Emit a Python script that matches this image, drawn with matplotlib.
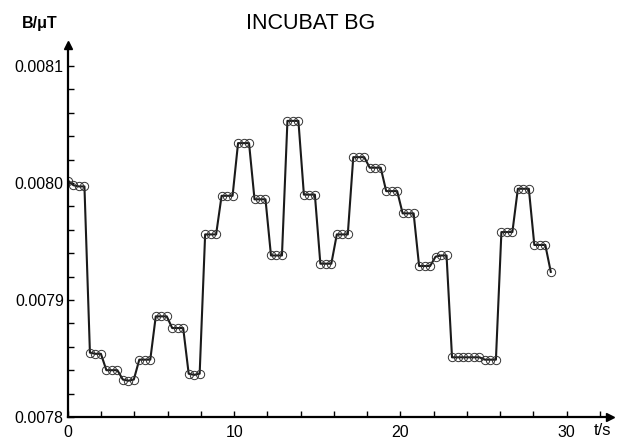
import numpy as np
import matplotlib.pyplot as plt
from matplotlib.ticker import MultipleLocator

plt.rcParams['font.family'] = ['Liberation Sans', 'DejaVu Sans']

# time in s, sampled about every 0.33 s
t = [0.00, 0.33, 0.66, 0.99, 1.32, 1.65, 1.98, 2.31, 2.64, 2.97,
     3.30, 3.63, 3.96, 4.29, 4.62, 4.95, 5.28, 5.61, 5.94, 6.27,
     6.60, 6.93, 7.26, 7.59, 7.92, 8.25, 8.58, 8.91, 9.24, 9.57,
     9.90, 10.23, 10.56, 10.89, 11.22, 11.55, 11.88, 12.21, 12.54, 12.87,
     13.20, 13.53, 13.86, 14.19, 14.52, 14.85, 15.18, 15.51, 15.84, 16.17,
     16.50, 16.83, 17.16, 17.49, 17.82, 18.15, 18.48, 18.81, 19.14, 19.47,
     19.80, 20.13, 20.46, 20.79, 21.12, 21.45, 21.78, 22.11, 22.44, 22.77,
     23.10, 23.43, 23.76, 24.09, 24.42, 24.75, 25.08, 25.41, 25.74, 26.07,
     26.40, 26.73, 27.06, 27.39, 27.72, 28.05, 28.38, 28.71, 29.04]

# field readings in uT
b = [0.008002, 0.007998, 0.007997, 0.007997,
     0.007855, 0.007854, 0.007854,
     0.007840, 0.007840, 0.007840,
     0.007832, 0.007831, 0.007832,
     0.007849, 0.007849, 0.007849,
     0.007886, 0.007886, 0.007886,
     0.007876, 0.007876, 0.007876,
     0.007837, 0.007836, 0.007837,
     0.007956, 0.007956, 0.007956,
     0.007989, 0.007989, 0.007989,
     0.008034, 0.008034, 0.008034,
     0.007986, 0.007986, 0.007986,
     0.007938, 0.007938, 0.007938,
     0.008053, 0.008053, 0.008053,
     0.007990, 0.007990, 0.007990,
     0.007931, 0.007931, 0.007931,
     0.007956, 0.007956, 0.007956,
     0.008022, 0.008022, 0.008022,
     0.008013, 0.008013, 0.008013,
     0.007993, 0.007993, 0.007993,
     0.007974, 0.007974, 0.007974,
     0.007929, 0.007929, 0.007929,
     0.007937, 0.007938, 0.007938,
     0.007851, 0.007851, 0.007851, 0.007851, 0.007851, 0.007851,
     0.007849, 0.007849, 0.007849,
     0.007958, 0.007958, 0.007958,
     0.007995, 0.007995, 0.007995,
     0.007947, 0.007947, 0.007947,
     0.007924]

fig = plt.figure(figsize=(6.18, 4.41), dpi=100)
ax = fig.add_axes([0.110, 0.0544, 0.877, 0.844])

ax.plot(t, b, color='#1a1a1a', lw=1.5, marker='o', ms=6, mfc='none',
        mec='#333333', mew=0.7)

ax.set_xlim(0, 32.6)
ax.set_ylim(0.0078, 0.008118)

ax.xaxis.set_major_locator(MultipleLocator(10))
ax.xaxis.set_minor_locator(MultipleLocator(2))
ax.yaxis.set_major_locator(MultipleLocator(0.0001))
ax.yaxis.set_minor_locator(MultipleLocator(0.00002))
ax.yaxis.set_major_formatter(plt.FuncFormatter(lambda v, p: f'{v:.4f}'))

for s in ['top', 'right']:
    ax.spines[s].set_visible(False)
for s in ['left', 'bottom']:
    ax.spines[s].set_linewidth(1.6)

ax.tick_params(which='both', direction='in', length=4, width=1, labelsize=11.5)
ax.tick_params(axis='x', pad=5.5)
ax.tick_params(axis='y', pad=3)

# arrow heads on axes
ax.plot(1, 0, '>k', ms=6, transform=ax.transAxes, clip_on=False)
ax.plot(0, 1, '^k', ms=6, transform=ax.transAxes, clip_on=False)

fig.text(0.065, 0.947, 'B/\u03bcT', fontsize=11.5, fontweight='bold', ha='center', va='center')
fig.text(0.975, 0.006, 't/s', fontsize=12, ha='center', va='bottom')
fig.text(0.502, 0.947, 'INCUBAT BG', fontsize=15.5, ha='center', va='center')

fig.savefig('out.png', dpi=100)
